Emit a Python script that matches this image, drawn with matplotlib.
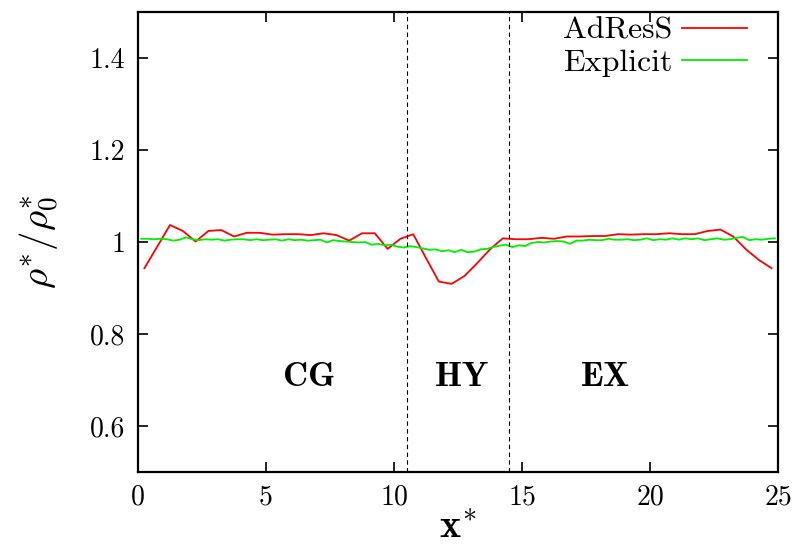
import matplotlib
matplotlib.use("Agg")
import matplotlib.pyplot as plt
import numpy as np

plt.rcParams['font.family'] = 'serif'
plt.rcParams['font.serif'] = ['cmr10', 'DejaVu Serif']
plt.rcParams['mathtext.fontset'] = 'cm'
plt.rcParams['axes.formatter.use_mathtext'] = True

# AdResS density profile (step 0.5)
x_adress = [0.25 + 0.5 * k for k in range(50)]
rho_adress = [0.943, 0.990, 1.037, 1.024, 1.001, 1.024, 1.026, 1.012, 1.020, 1.020,
              1.016, 1.017, 1.017, 1.015, 1.019, 1.015, 1.003, 1.019, 1.019, 0.985,
              1.007, 1.017, 0.965, 0.914, 0.909, 0.926, 0.954, 0.984, 1.008, 1.006,
              1.006, 1.009, 1.007, 1.012, 1.012, 1.013, 1.013, 1.017, 1.016, 1.017,
              1.017, 1.019, 1.017, 1.017, 1.024, 1.027, 1.012, 0.984, 0.961, 0.943]

# Explicit density profile (step 0.25)
x_explicit = [0.125 + 0.25 * k for k in range(100)]
rho_explicit = [1.007, 1.007, 1.006, 1.007, 1.006, 1.003, 1.005, 1.010, 1.006, 1.004,
                1.006, 1.005, 1.006, 1.003, 1.005, 1.006, 1.006, 1.004, 1.006, 1.004,
                1.005, 1.006, 1.003, 1.006, 1.004, 1.005, 1.003, 1.004, 1.005, 0.999,
                1.004, 1.002, 1.001, 1.000, 0.999, 1.000, 0.994, 0.996, 0.993, 0.994,
                0.990, 0.988, 0.991, 0.989, 0.986, 0.983, 0.984, 0.980, 0.982, 0.978,
                0.983, 0.978, 0.979, 0.984, 0.985, 0.989, 0.992, 0.994, 0.989, 0.993,
                0.991, 0.998, 1.000, 0.999, 1.001, 1.002, 1.001, 0.996, 1.003, 1.003,
                1.005, 1.004, 1.004, 1.007, 1.005, 1.005, 1.006, 1.004, 1.005, 1.008,
                1.004, 1.006, 1.005, 1.008, 1.005, 1.008, 1.006, 1.008, 1.004, 1.006,
                1.008, 1.005, 1.006, 1.009, 1.011, 1.004, 1.006, 1.005, 1.007, 1.008]

boundaries = [10.5, 14.5]
region_labels = ['CG', 'HY', 'EX']
region_x = [6.66, 12.64, 18.25]
region_y = 0.706

x_ticks = [0, 5, 10, 15, 20, 25]
y_ticks = [0.6, 0.8, 1.0, 1.2, 1.4]
y_tick_labels = ['0.6', '0.8', '1', '1.2', '1.4']

fig = plt.figure(figsize=(7.92, 5.47), dpi=100)
ax = fig.add_axes([138 / 792, 1 - 472 / 547, 640 / 792, 460 / 547])

ax.plot(x_adress, rho_adress, color='#ff0000', lw=1.3, label='AdResS')
ax.plot(x_explicit, rho_explicit, color='#00ee00', lw=1.3, label='Explicit')

for b in boundaries:
    ax.axvline(b, color='black', lw=0.8, ls=(0, (4, 3)))

for lab, xx in zip(region_labels, region_x):
    ax.text(xx, region_y, r'$\mathbf{%s}$' % lab, ha='center', va='center', fontsize=25)

ax.set_xlim(0, 25)
ax.set_ylim(0.5, 1.5)
ax.set_xticks(x_ticks)
ax.set_xticklabels([str(t) for t in x_ticks])
ax.set_yticks(y_ticks)
ax.set_yticklabels(y_tick_labels)
ax.tick_params(direction='in', length=7, width=1.2, labelsize=20,
               top=True, right=True, pad=9)
for s in ax.spines.values():
    s.set_linewidth(1.6)

ax.set_xlabel(r'$\mathbf{x}^{*}$', fontsize=29, labelpad=0)
ax.set_ylabel(r'$\rho^{*}/\rho^{*}_{\mathbf{0}}$', fontsize=28, labelpad=21)

leg = ax.legend(loc='upper right', bbox_to_anchor=(0.952, 0.99), frameon=False,
                markerfirst=False, fontsize=23, handlelength=2.05, handletextpad=0.3,
                labelspacing=0.12, borderpad=0, borderaxespad=0)

fig.savefig('out.png', dpi=100)
